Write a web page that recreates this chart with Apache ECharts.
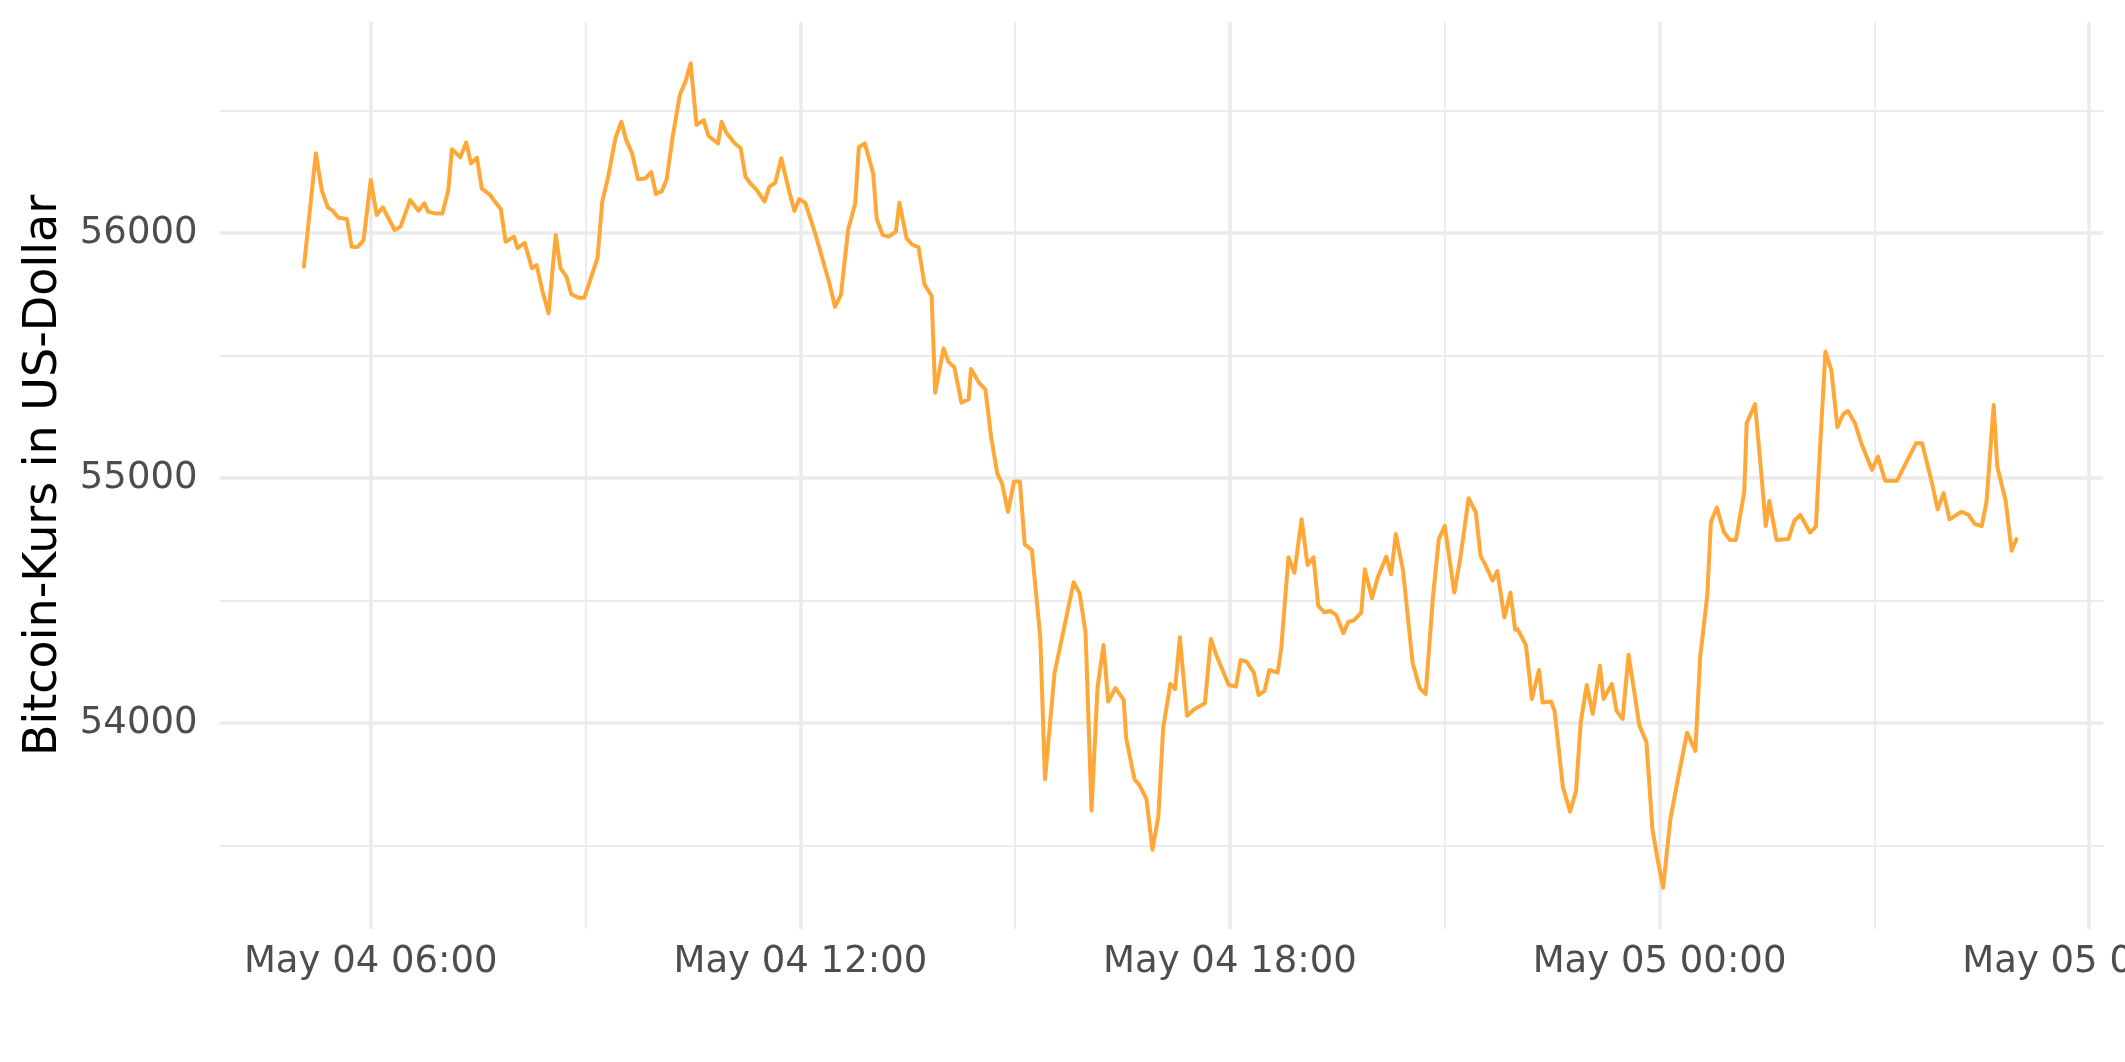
<!DOCTYPE html>
<html><head><meta charset="utf-8">
<script src="https://cdn.jsdelivr.net/npm/echarts@6/dist/echarts.min.js"></script>
<style>html,body{margin:0;padding:0;background:#fff}#c{width:2125px;height:1062px}</style>
</head><body><div id="c"></div>
<script>
// Timestamps (2021, local chart time) of the price points
const times = [
"2021-05-04 05:04","2021-05-04 05:14","2021-05-04 05:19","2021-05-04 05:24","2021-05-04 05:28","2021-05-04 05:33","2021-05-04 05:40","2021-05-04 05:44","2021-05-04 05:49","2021-05-04 05:54",
"2021-05-04 06:00","2021-05-04 06:05","2021-05-04 06:10","2021-05-04 06:20","2021-05-04 06:25","2021-05-04 06:33","2021-05-04 06:40","2021-05-04 06:45","2021-05-04 06:48","2021-05-04 06:54",
"2021-05-04 07:00","2021-05-04 07:05","2021-05-04 07:08","2021-05-04 07:15","2021-05-04 07:20","2021-05-04 07:24","2021-05-04 07:29","2021-05-04 07:33","2021-05-04 07:40","2021-05-04 07:44",
"2021-05-04 07:49","2021-05-04 07:53","2021-05-04 08:00","2021-05-04 08:03","2021-05-04 08:09","2021-05-04 08:15","2021-05-04 08:19","2021-05-04 08:24","2021-05-04 08:29","2021-05-04 08:35",
"2021-05-04 08:39","2021-05-04 08:44","2021-05-04 08:48","2021-05-04 08:54","2021-05-04 08:59","2021-05-04 09:10","2021-05-04 09:14","2021-05-04 09:19","2021-05-04 09:25","2021-05-04 09:30",
"2021-05-04 09:34","2021-05-04 09:39","2021-05-04 09:44","2021-05-04 09:50","2021-05-04 09:55","2021-05-04 09:59","2021-05-04 10:04","2021-05-04 10:08","2021-05-04 10:13","2021-05-04 10:19",
"2021-05-04 10:24","2021-05-04 10:28","2021-05-04 10:33","2021-05-04 10:39","2021-05-04 10:43","2021-05-04 10:51","2021-05-04 10:54","2021-05-04 10:58","2021-05-04 11:05","2021-05-04 11:10",
"2021-05-04 11:14","2021-05-04 11:18","2021-05-04 11:23","2021-05-04 11:30","2021-05-04 11:34","2021-05-04 11:39","2021-05-04 11:44","2021-05-04 11:50","2021-05-04 11:55","2021-05-04 11:59",
"2021-05-04 12:04","2021-05-04 12:12","2021-05-04 12:24","2021-05-04 12:29","2021-05-04 12:34","2021-05-04 12:40","2021-05-04 12:46","2021-05-04 12:49","2021-05-04 12:54","2021-05-04 13:01",
"2021-05-04 13:04","2021-05-04 13:09","2021-05-04 13:14","2021-05-04 13:20","2021-05-04 13:23","2021-05-04 13:29","2021-05-04 13:34","2021-05-04 13:39","2021-05-04 13:44","2021-05-04 13:50",
"2021-05-04 13:53","2021-05-04 14:00","2021-05-04 14:04","2021-05-04 14:09","2021-05-04 14:15","2021-05-04 14:21","2021-05-04 14:23","2021-05-04 14:30","2021-05-04 14:35","2021-05-04 14:40",
"2021-05-04 14:45","2021-05-04 14:49","2021-05-04 14:54","2021-05-04 14:59","2021-05-04 15:04","2021-05-04 15:08","2021-05-04 15:14","2021-05-04 15:21","2021-05-04 15:25","2021-05-04 15:33",
"2021-05-04 15:49","2021-05-04 15:54","2021-05-04 15:59","2021-05-04 16:04","2021-05-04 16:09","2021-05-04 16:14","2021-05-04 16:18","2021-05-04 16:24","2021-05-04 16:31","2021-05-04 16:33",
"2021-05-04 16:40","2021-05-04 16:44","2021-05-04 16:50","2021-05-04 16:55","2021-05-04 17:00","2021-05-04 17:04","2021-05-04 17:10","2021-05-04 17:14","2021-05-04 17:18","2021-05-04 17:24",
"2021-05-04 17:30","2021-05-04 17:39","2021-05-04 17:44","2021-05-04 17:49","2021-05-04 17:59","2021-05-04 18:05","2021-05-04 18:09","2021-05-04 18:14","2021-05-04 18:20","2021-05-04 18:24",
"2021-05-04 18:29","2021-05-04 18:33","2021-05-04 18:40","2021-05-04 18:43","2021-05-04 18:49","2021-05-04 18:54","2021-05-04 19:00","2021-05-04 19:05","2021-05-04 19:10","2021-05-04 19:14",
"2021-05-04 19:19","2021-05-04 19:24","2021-05-04 19:29","2021-05-04 19:35","2021-05-04 19:39","2021-05-04 19:44","2021-05-04 19:50","2021-05-04 19:53","2021-05-04 19:59","2021-05-04 20:04",
"2021-05-04 20:11","2021-05-04 20:15","2021-05-04 20:19","2021-05-04 20:25","2021-05-04 20:33","2021-05-04 20:39","2021-05-04 20:44","2021-05-04 20:50","2021-05-04 20:55","2021-05-04 21:00",
"2021-05-04 21:08","2021-05-04 21:13","2021-05-04 21:20","2021-05-04 21:26","2021-05-04 21:30","2021-05-04 21:34","2021-05-04 21:40","2021-05-04 21:44","2021-05-04 21:50","2021-05-04 21:55",
"2021-05-04 21:59","2021-05-04 22:01","2021-05-04 22:08","2021-05-04 22:13","2021-05-04 22:19","2021-05-04 22:22","2021-05-04 22:29","2021-05-04 22:32","2021-05-04 22:39","2021-05-04 22:45",
"2021-05-04 22:50","2021-05-04 22:54","2021-05-04 22:59","2021-05-04 23:04","2021-05-04 23:10","2021-05-04 23:13","2021-05-04 23:20","2021-05-04 23:24","2021-05-04 23:29","2021-05-04 23:34",
"2021-05-04 23:39","2021-05-04 23:43","2021-05-04 23:49","2021-05-04 23:54","2021-05-04 23:58","2021-05-05 00:03","2021-05-05 00:09","2021-05-05 00:15","2021-05-05 00:23","2021-05-05 00:30",
"2021-05-05 00:34","2021-05-05 00:40","2021-05-05 00:43","2021-05-05 00:48","2021-05-05 00:54","2021-05-05 00:59","2021-05-05 01:04","2021-05-05 01:11","2021-05-05 01:13","2021-05-05 01:20",
"2021-05-05 01:25","2021-05-05 01:29","2021-05-05 01:32","2021-05-05 01:38","2021-05-05 01:48","2021-05-05 01:53","2021-05-05 01:58","2021-05-05 02:06","2021-05-05 02:11","2021-05-05 02:13",
"2021-05-05 02:19","2021-05-05 02:24","2021-05-05 02:29","2021-05-05 02:34","2021-05-05 02:38","2021-05-05 02:44","2021-05-05 02:49","2021-05-05 02:58","2021-05-05 03:03","2021-05-05 03:09",
"2021-05-05 03:19","2021-05-05 03:27","2021-05-05 03:35","2021-05-05 03:40","2021-05-05 03:48","2021-05-05 03:53","2021-05-05 03:58","2021-05-05 04:03","2021-05-05 04:13","2021-05-05 04:19",
"2021-05-05 04:24","2021-05-05 04:30","2021-05-05 04:34","2021-05-05 04:40","2021-05-05 04:43","2021-05-05 04:50","2021-05-05 04:55","2021-05-05 04:59"
];
// Bitcoin price in US dollars at those times
const prices = [
55862,56325,56173,56105,56091,56062,56057,55944,55943,55971,
56216,56073,56105,56012,56026,56135,56091,56121,56087,56080,
56080,56176,56342,56309,56369,56284,56307,56182,56155,56128,
56098,55964,55985,55938,55960,55856,55869,55760,55672,55992,
55856,55822,55750,55736,55736,55897,56128,56230,56387,56454,
56380,56325,56219,56223,56248,56159,56171,56219,56393,56563,
56622,56693,56441,56461,56396,56366,56454,56409,56366,56346,
56230,56203,56178,56128,56189,56205,56305,56182,56090,56138,
56124,56005,55801,55699,55747,56012,56121,56350,56366,56244,
56057,55992,55985,56005,56124,55978,55951,55942,55791,55743,
55348,55529,55475,55452,55307,55321,55445,55387,55362,55162,
55019,54978,54862,54985,54985,54729,54706,54352,53770,54203,
54574,54529,54369,53642,54142,54318,54087,54142,54094,53938,
53770,53747,53689,53482,53618,53978,54159,54138,54350,54029,
54056,54080,54343,54271,54155,54148,54257,54250,54205,54114,
54131,54216,54205,54305,54676,54613,54831,54645,54676,54478,
54452,54457,54441,54366,54411,54420,54450,54627,54509,54597,
54679,54607,54771,54624,54246,54142,54118,54509,54750,54804,
54532,54672,54917,54860,54682,54645,54581,54620,54430,54532,
54380,54383,54318,54098,54216,54083,54087,54050,53738,53638,
53722,54005,54155,54037,54233,54098,54159,54049,54016,54278,
54121,53991,53921,53567,53452,53327,53606,53760,53960,53886,
54267,54521,54820,54879,54778,54747,54747,54944,55224,55302,
55033,54804,54906,54747,54751,54826,54849,54777,54801,54992,
55516,55438,55207,55261,55273,55220,55142,55033,55087,54989,
54989,55067,55142,55142,54985,54872,54938,54831,54862,54849,
54812,54804,54903,55298,55046,54907,54703,54750
];
// x tick labels, one per 6 hours starting at May 04 06:00
const xTickLabels = ["May 04 06:00","May 04 12:00","May 04 18:00","May 05 00:00","May 05 06:00"];
const yTitle = "Bitcoin-Kurs in US-Dollar";

// x position in units of 6 hours after 2021-05-04 06:00
function toUnit(s){
  const day=+s.slice(8,10), hh=+s.slice(11,13), mm=+s.slice(14,16);
  return ((day-4)*24 + hh + mm/60 - 6)/6;
}
const seriesData = times.map((t,i)=>[toUnit(t), prices[i]]);

const FONT = "DejaVu Sans";
const chart = echarts.init(document.getElementById('c'), null, {renderer:'canvas'});
chart.setOption({
  animation:false,
  backgroundColor:'#ffffff',
  grid:{left:219.5, right:21.8, top:22, bottom:133, containLabel:false, outerBoundsMode:'none'},
  xAxis:{
    type:'value', min:-2.1125/6, max:24.196/6, splitNumber:5,
    axisLine:{show:false}, axisTick:{show:false},
    minorTick:{show:false, splitNumber:2},
    splitLine:{show:true, showMinLine:false, showMaxLine:false, lineStyle:{color:'#EBEBEB', width:3.5}},
    minorSplitLine:{show:true, lineStyle:{color:'#EBEBEB', width:1.8}},
    axisLabel:{
      margin:15, fontSize:37, color:'#4D4D4D', fontFamily:FONT,
      formatter:function(v){
        const r=Math.round(v);
        if(Math.abs(v-r)>1e-6 || r<0 || r>=xTickLabels.length) return '';
        return xTickLabels[r];
      }
    }
  },
  yAxis:{
    type:'value', min:53158.7, max:56861.3, splitNumber:5,
    name:yTitle, nameLocation:'middle', nameRotate:90, nameGap:152,
    nameTextStyle:{fontSize:46, color:'#000000', fontFamily:FONT},
    axisLine:{show:false}, axisTick:{show:false},
    minorTick:{show:false, splitNumber:2},
    splitLine:{show:true, showMinLine:false, showMaxLine:false, lineStyle:{color:'#EBEBEB', width:3.5}},
    minorSplitLine:{show:true, lineStyle:{color:'#EBEBEB', width:1.8}},
    axisLabel:{
      margin:22, fontSize:37, color:'#4D4D4D', fontFamily:FONT,
      formatter:function(v){ return (Math.abs(v/1000-Math.round(v/1000))<1e-6) ? String(Math.round(v)) : ''; }
    }
  },
  series:[{
    type:'line', data:seriesData, showSymbol:false, smooth:false,
    lineStyle:{color:'#FFA737', width:4, cap:'round', join:'round'},
    itemStyle:{color:'#FFA737'}, z:5
  }]
});
</script>
</body></html>
